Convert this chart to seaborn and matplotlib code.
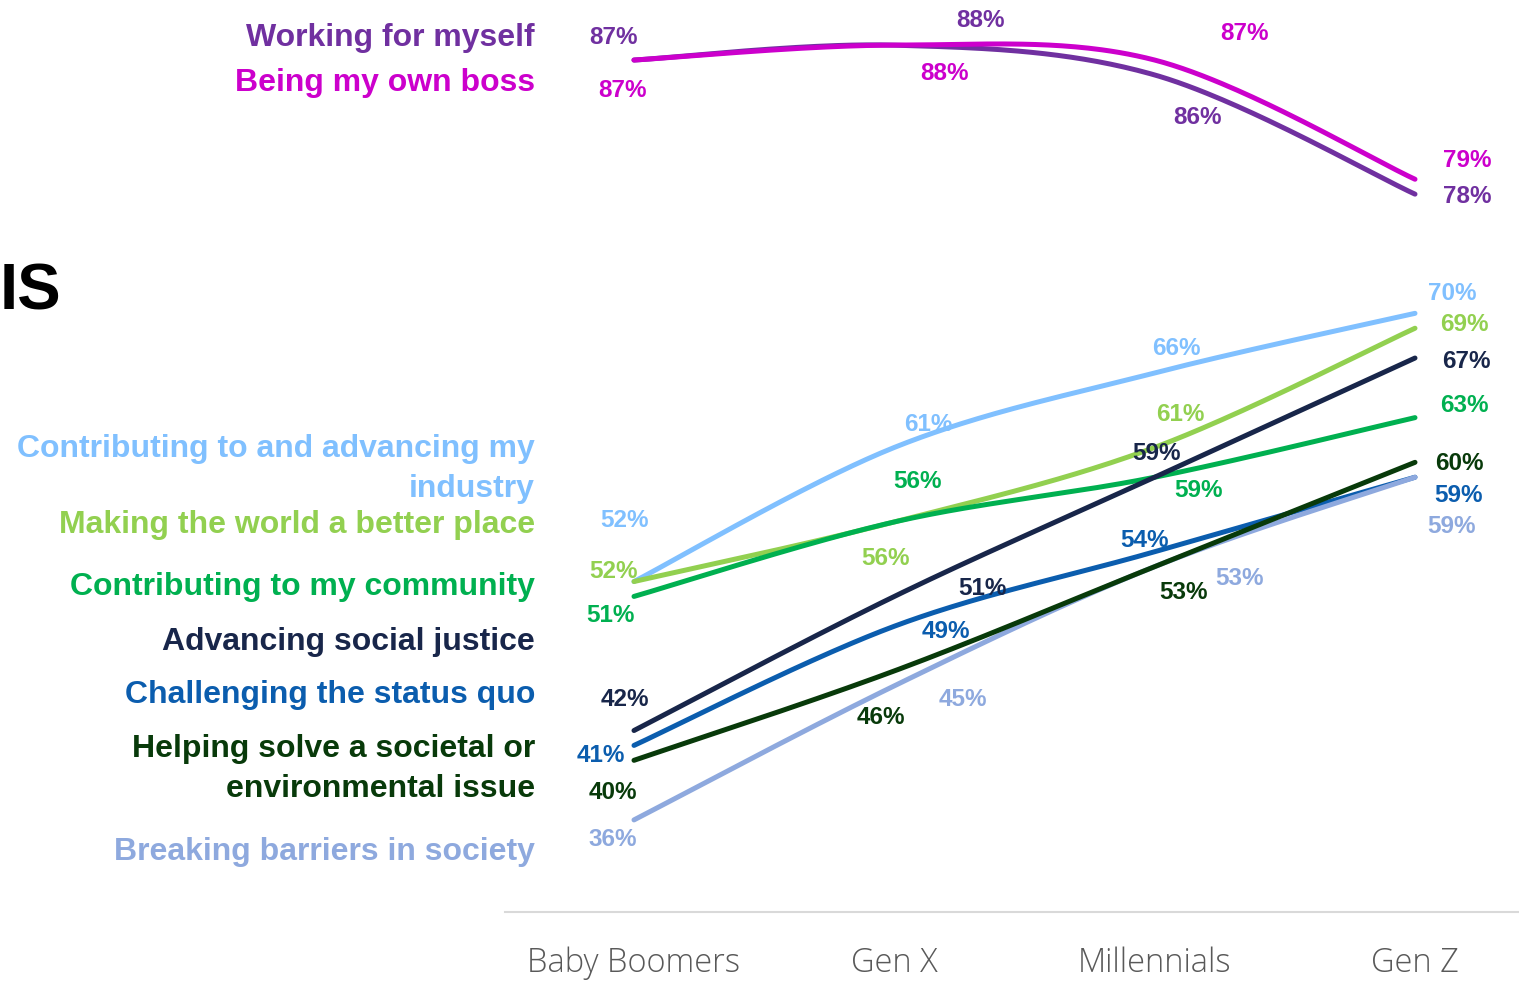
import numpy as np
import pandas as pd
import matplotlib
matplotlib.use("Agg")
import matplotlib.pyplot as plt
import seaborn as sns

# ---- data -------------------------------------------------------------
generations = ["Baby Boomers", "Gen X", "Millennials", "Gen Z"]

working_for_myself = [87, 88, 86, 78]
being_my_own_boss = [87, 88, 87, 79]
advancing_my_industry = [52, 61, 66, 70]
better_place = [52, 56, 61, 69]
my_community = [51, 56, 59, 63]
social_justice = [42, 51, 59, 67]
status_quo = [41, 49, 54, 59]
societal_issue = [40, 46, 53, 60]
breaking_barriers = [36, 45, 53, 59]

series_names = [
    "Contributing to and advancing my\nindustry",
    "Making the world a better place",
    "Contributing to my community",
    "Advancing social justice",
    "Challenging the status quo",
    "Breaking barriers in society",
    "Helping solve a societal or\nenvironmental issue",
    "Working for myself",
    "Being my own boss",
]
series_values = [
    advancing_my_industry, better_place, my_community, social_justice,
    status_quo, breaking_barriers, societal_issue,
    working_for_myself, being_my_own_boss,
]

# ---- styling ----------------------------------------------------------
colors = {
    "Working for myself": "#7030A0",
    "Being my own boss": "#CC00CC",
    "Contributing to and advancing my\nindustry": "#80C0FF",
    "Making the world a better place": "#92D050",
    "Contributing to my community": "#00B050",
    "Advancing social justice": "#18264A",
    "Challenging the status quo": "#0B5DAE",
    "Helping solve a societal or\nenvironmental issue": "#083A0A",
    "Breaking barriers in society": "#8EA9DE",
}

# name label vertical centres (pixels from top)
name_label_y = {
    "Working for myself": 38,
    "Being my own boss": 83,
    "Contributing to and advancing my\nindustry": 469,
    "Making the world a better place": 525,
    "Contributing to my community": 587,
    "Advancing social justice": 642,
    "Challenging the status quo": 695,
    "Helping solve a societal or\nenvironmental issue": 769,
    "Breaking barriers in society": 852,
}

# value-label offsets in pixels (dx right, dy down) per generation
label_offsets = {
    "Working for myself": [(-20, -23), (86, -25), (43, 43), (52, 2)],
    "Being my own boss": [(-11, 30), (50, 28), (90, -27), (52, -19)],
    "Contributing to and advancing my\nindustry": [(-9, -61), (34, -23), (22, -24), (37, -20)],
    "Making the world a better place": [(-20, -10), (-9, 37), (26, -33), (49, -4)],
    "Contributing to my community": [(-24, 19), (23, -40), (44, 13), (49, -12)],
    "Advancing social justice": [(-9, -31), (88, -8), (2, -24), (51, 3)],
    "Challenging the status quo": [(-33, 10), (52, 5), (-10, -11), (44, 18)],
    "Helping solve a societal or\nenvironmental issue": [(-21, 32), (-13, 47), (29, 26), (44, 1)],
    "Breaking barriers in society": [(-21, 20), (69, 14), (85, 12), (37, 49)],
}


def smooth_curve(xs, ys, n=60):
    """Cubic Bezier smoothing through the points (Catmull-Rom style)."""
    xs = np.asarray(xs, float)
    ys = np.asarray(ys, float)
    P = np.column_stack([xs, ys])
    Pe = np.vstack([P[0], P, P[-1]])
    out = []
    t = np.linspace(0, 1, n)[:, None]
    for i in range(len(P) - 1):
        p0, p3 = Pe[i + 1], Pe[i + 2]
        c1 = p0 + (Pe[i + 2] - Pe[i]) / 6.0
        c2 = p3 - (Pe[i + 3] - Pe[i + 1]) / 6.0
        seg = ((1 - t) ** 3) * p0 + 3 * ((1 - t) ** 2) * t * c1 \
            + 3 * (1 - t) * t ** 2 * c2 + t ** 3 * p3
        out.append(seg if i == 0 else seg[1:])
    out = np.vstack(out)
    return out[:, 0], out[:, 1]


rows = []
for name, vals in zip(series_names, series_values):
    sx, sy = smooth_curve(np.arange(len(generations)), vals)
    for k, (a, b) in enumerate(zip(sx, sy)):
        rows.append({"series": name, "x": a, "y": b, "order": k})
curves = pd.DataFrame(rows)

# ---- figure -----------------------------------------------------------
sns.set_theme(style="white")
plt.rcParams["font.family"] = ["Liberation Sans", "DejaVu Sans"]

W, H = 1519, 982
fig = plt.figure(figsize=(W / 100, H / 100), dpi=100)
ax = fig.add_axes([505 / W, (H - 912) / H, (1519 - 505) / W, 912 / H])

sns.lineplot(
    data=curves, x="x", y="y", hue="series", hue_order=series_names,
    palette=colors, estimator=None, sort=False, units="series",
    linewidth=3.6, legend=False, ax=ax, solid_capstyle="round",
)

ax.set_xlim(-0.4955, 3.3995)
ax.set_ylim(29.82, 91.03)
ax.set_xticks(range(len(generations)))
ax.set_xticklabels(generations, fontsize=23.5, color="#595959",
                   family=["Open Sans", "DejaVu Sans"], fontweight="light")
ax.tick_params(axis="x", length=0, pad=25)
ax.set_yticks([])
ax.set_xlabel("")
ax.set_ylabel("")
for side in ("top", "left", "right"):
    ax.spines[side].set_visible(False)
ax.spines["bottom"].set_color("#D9D9D9")
ax.spines["bottom"].set_linewidth(1.5)

# value labels
for name, vals in zip(series_names, series_values):
    for i, v in enumerate(vals):
        dx, dy = label_offsets[name][i]
        ax.annotate(f"{v}%", xy=(i, v), xytext=(dx, -dy),
                    textcoords="offset pixels", ha="center", va="center",
                    fontsize=17.5, fontweight="bold", color=colors[name],
                    annotation_clip=False)

# series names on the left
for name in series_names:
    fig.text(535 / W, 1 - name_label_y[name] / H, name, ha="right",
             va="center", multialignment="right", fontsize=23,
             fontweight="bold", color=colors[name], linespacing=1.4)

# heading fragment at the left edge
fig.text(61 / W, 1 - 292 / H, "IS", ha="right", va="center",
         fontsize=47, fontweight="bold", color="#000000")

fig.savefig("out.png", dpi=100)
